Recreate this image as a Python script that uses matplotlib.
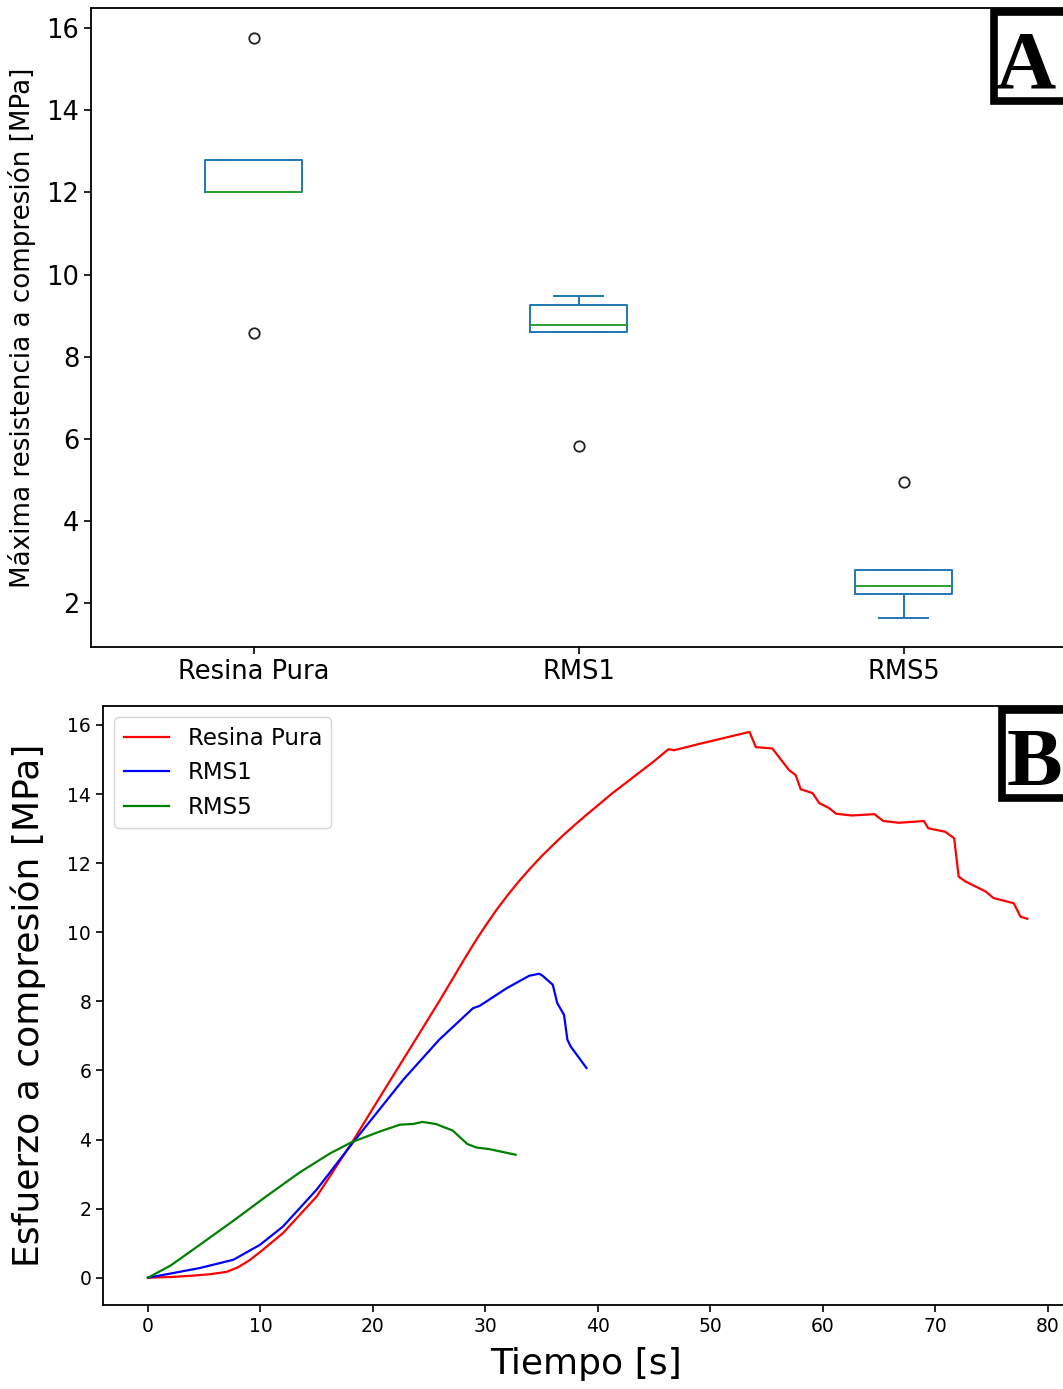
#!/usr/bin/env python3
# plot.py - compression strength boxplot (A) and stress-time curves (B)
import matplotlib
matplotlib.use("Agg")
import matplotlib.pyplot as plt
from matplotlib.patches import Rectangle

# ---- panel A: box statistics ----
labels = ["Resina Pura", "RMS1", "RMS5"]
whisker_low = [12.0, 8.60, 1.63]
q1 = [12.0, 8.60, 2.23]
median = [12.0, 8.77, 2.41]
q3 = [12.79, 9.26, 2.80]
whisker_high = [12.79, 9.47, 2.80]
fliers = [[15.76, 8.57], [5.82], [4.94]]

# ---- panel B: stress vs time curves ----
t_resina = [0, 2, 4, 5.5, 7, 8, 9, 10, 12, 15, 18.2, 20, 22, 24, 25.9, 27, 28,
            29, 30, 31, 32, 33, 34, 35, 36, 37, 38, 39, 40, 41.2, 42, 43, 44,
            45, 46.3, 46.8, 49.0, 53.5, 54.06, 55.53,
            57.0, 57.6, 58.05, 59.1, 59.7, 60.6, 61.2, 62.6, 64.6, 65.4, 66.8,
            69.0, 69.4, 70.9, 71.7, 72.1, 72.7, 74.5, 75.2, 77.0, 77.6, 78.2]
s_resina = [0, 0.02, 0.06, 0.1, 0.17, 0.3, 0.5, 0.75, 1.29, 2.35, 3.94, 4.9,
            5.95, 7.0, 8.0, 8.6, 9.15, 9.68, 10.18, 10.65, 11.08, 11.48, 11.85,
            12.2, 12.52, 12.83, 13.12, 13.4, 13.67, 14.0, 14.2, 14.45, 14.7,
            14.95, 15.3, 15.27, 15.45, 15.8, 15.36, 15.32, 14.7, 14.55, 14.14,
            14.03, 13.74, 13.59, 13.43, 13.38, 13.42, 13.22, 13.17, 13.22,
            13.01, 12.91, 12.72, 11.61, 11.47, 11.18, 10.99, 10.84, 10.45,
            10.39]

t_rms1 = [0, 2, 4.6, 7.6, 9.95, 12, 15, 18.2, 22.7, 25.9, 28.9, 29.5, 31.9,
          33.9, 34.8, 35.1, 36.0, 36.4, 37.0, 37.3, 37.6, 39.0]
s_rms1 = [0, 0.12, 0.28, 0.52, 0.95, 1.48, 2.55, 3.9, 5.73, 6.89, 7.80, 7.87,
          8.38, 8.74, 8.80, 8.74, 8.48, 7.95, 7.61, 6.89, 6.69, 6.07]

t_rms5 = [0, 2, 4.6, 7.6, 10.5, 13.5, 16.2, 18.1, 20.6, 22.4, 23.6, 24.4,
          25.6, 27.1, 28.4, 29.2, 30.4, 32.7]
s_rms5 = [0, 0.35, 0.95, 1.65, 2.35, 3.05, 3.6, 3.92, 4.23, 4.43, 4.45, 4.51,
          4.45, 4.26, 3.87, 3.77, 3.72, 3.56]

W, H = 1063, 1389
fig = plt.figure(figsize=(W / 100, H / 100), dpi=100)

# ---------------- panel A ----------------
axA = fig.add_axes([91 / W, 1 - 647 / H, (1066 - 91) / W, (647 - 8) / H])
stats = []
for i, lab in enumerate(labels):
    stats.append({"label": lab, "whislo": whisker_low[i], "q1": q1[i],
                  "med": median[i], "q3": q3[i], "whishi": whisker_high[i],
                  "fliers": fliers[i]})
blue = "#1f77b4"
axA.bxp(stats, widths=0.3,
        boxprops=dict(color=blue, linewidth=1.4),
        whiskerprops=dict(color=blue, linewidth=1.4),
        capprops=dict(color=blue, linewidth=1.4),
        medianprops=dict(color="#2ca02c", linewidth=1.4),
        flierprops=dict(marker="o", markerfacecolor="none",
                        markeredgecolor="#222222", markersize=7.5,
                        markeredgewidth=1.3))
axA.set_xlim(0.5, 3.5)
axA.set_ylim(0.93, 16.49)
axA.set_yticks([2, 4, 6, 8, 10, 12, 14, 16])
axA.tick_params(labelsize=18.5, width=1.2, length=5)
axA.set_ylabel("Máxima resistencia a compresión [MPa]", fontsize=18.8,
               labelpad=7)
for sp in axA.spines.values():
    sp.set_linewidth(1.3)

# ---------------- panel B ----------------
axB = fig.add_axes([103 / W, 1 - 1305 / H, (1070 - 103) / W, (1305 - 706) / H])
axB.plot(t_resina, s_resina, color="red", lw=1.6, label="Resina Pura")
axB.plot(t_rms1, s_rms1, color="blue", lw=1.6, label="RMS1")
axB.plot(t_rms5, s_rms5, color="green", lw=1.6, label="RMS5")
axB.set_xlim(-4, 82)
axB.set_ylim(-0.79, 16.55)
axB.set_xticks(range(0, 81, 10))
axB.set_yticks(range(0, 17, 2))
axB.tick_params(labelsize=13.5, width=1.2, length=5)
axB.set_xlabel("Tiempo [s]", fontsize=26, labelpad=8)
axB.set_ylabel("Esfuerzo a compresión [MPa]", fontsize=26, labelpad=15)
axB.legend(loc="upper left", fontsize=16.5)
for sp in axB.spines.values():
    sp.set_linewidth(1.3)

# ---------------- panel letters ----------------
def letter(ch, x0, y0, x1, y1, cx, base):
    fig.add_artist(Rectangle((x0 / W, 1 - y1 / H), (x1 - x0) / W, (y1 - y0) / H,
                             transform=fig.transFigure, facecolor="white",
                             edgecolor="black", linewidth=5.5, zorder=10))
    fig.text(cx / W, 1 - base / H, ch, fontsize=60, fontweight="bold",
             family="Liberation Serif", ha="center", va="baseline", zorder=11)

letter("A", 994, 12, 1075, 101, 1025, 88)
letter("B", 1002, 710, 1075, 798, 1034, 785)

fig.savefig("out.png", dpi=100)
